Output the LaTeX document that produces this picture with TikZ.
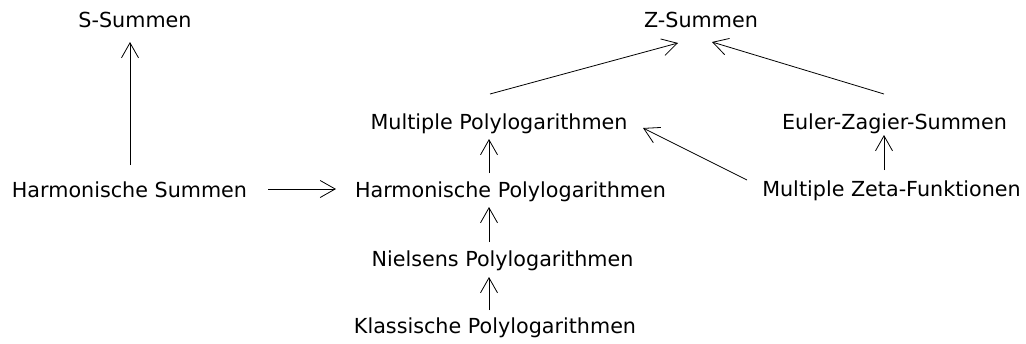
\documentclass[tikz,border=0pt]{standalone}
\usepackage{fontspec}
\setmainfont{DejaVu Sans}
\usetikzlibrary{arrows.meta,calc}
\begin{document}
\begin{tikzpicture}[x=1pt,y=1pt,
  lbl/.style={anchor=base,inner sep=0pt,font=\fontsize{20.7}{24}\selectfont},
  arr/.style={line width=0.8pt,-{Straight Barb[length=15pt,width=17pt,line width=0.8pt]}}]
\useasboundingbox (0,0) rectangle (1026,-343);
\node[lbl] (ss) at (135,-27) {S-Summen};
\node[lbl] (zs) at (701,-27) {Z-Summen};
\node[lbl] (mp) at (499,-129) {Multiple Polylogarithmen};
\node[lbl] (ez) at (894.5,-129) {Euler-Zagier-Summen};
\node[lbl] (hs) at (129.5,-197) {Harmonische Summen};
\node[lbl] (hp) at (510.5,-197) {Harmonische Polylogarithmen};
\node[lbl] (mz) at (891.5,-196) {Multiple Zeta-Funktionen};
\node[lbl] (ni) at (502.5,-266) {Nielsens Polylogarithmen};
\node[lbl] (kl) at (495,-333) {Klassische Polylogarithmen};
\draw[arr] ($(hs.base)+(0.5,32)$) -- ($(ss.base)+(-5,-15)$);
\draw[arr] ($(hs.base)+(138.5,8)$) -- ($(hp.base)+(-174.5,8)$);
\draw[arr] ($(mp.base)+(-9,35)$) -- ($(zs.base)+(-23,-16)$);
\draw[arr] ($(ez.base)+(-10.5,35)$) -- ($(zs.base)+(11,-15)$);
\draw[arr] ($(mz.base)+(-144.5,16)$) -- ($(mp.base)+(144,1)$);
\draw[arr] ($(mz.base)+(-7.5,26)$) -- ($(ez.base)+(-10.5,-6)$);
\draw[arr] ($(hp.base)+(-21.5,24)$) -- ($(mp.base)+(-10,-10)$);
\draw[arr] ($(ni.base)+(-13.5,24)$) -- ($(hp.base)+(-21.5,-10)$);
\draw[arr] ($(kl.base)+(-6,23)$) -- ($(ni.base)+(-13.5,-11)$);
\end{tikzpicture}
\end{document}
